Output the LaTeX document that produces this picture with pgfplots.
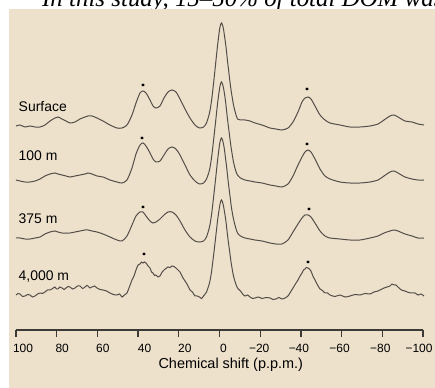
\documentclass[border=0pt]{standalone}
\usepackage{pgfplots}
\pgfplotsset{compat=1.18}
\usepackage{pgfplotstable}
\usepackage{fontspec}
\setmainfont{Liberation Sans}
\newfontfamily\seriffont{Liberation Serif}
\definecolor{bg}{RGB}{237,225,204}
\definecolor{trace}{RGB}{84,78,72}
\definecolor{axisc}{RGB}{60,58,55}

\pgfplotstableread{
x s a b
100.00 -126 -180 -238
98.03 -125 -181 -238
95.58 -127 -182 -239
93.12 -126 -182 -239
90.66 -127 -181 -238
88.21 -127 -179 -237
85.75 -125 -176 -234
83.29 -121 -174 -232
80.84 -118 -173 -231
79.36 -117 -174 -232
77.40 -119 -175 -233
75.43 -121 -176 -233
73.46 -123 -177 -233
71.01 -122 -176 -232
68.55 -119 -175 -231
66.09 -117 -174 -230
64.62 -116 -173 -230
62.65 -116 -174 -231
60.20 -118 -176 -232
57.25 -121 -177 -234
53.81 -125 -180 -237
50.37 -128 -182 -240
47.91 -128 -183 -241
45.45 -125 -180 -236
43.00 -115 -168 -225
41.03 -103 -154 -216
39.07 -93 -145 -212
37.59 -91 -143 -212
36.12 -93 -146 -216
34.15 -100 -153 -221
32.68 -106 -159 -223
31.20 -108 -162 -222
29.24 -106 -161 -219
27.27 -98 -155 -215
25.31 -92 -149 -212
23.34 -90 -147 -212
21.38 -92 -149 -215
19.41 -99 -155 -221
16.95 -109 -165 -230
14.50 -118 -175 -237
12.04 -125 -181 -241
9.83 -128 -184 -242
7.86 -127 -183 -241
6.39 -123 -179 -237
4.91 -113 -170 -227
3.93 -101 -158 -215
2.95 -84 -141 -198
1.97 -65 -123 -180
0.98 -46 -104 -161
0.00 -30 -89 -145
-0.49 -25 -84 -140
-0.98 -23 -82 -138
-1.47 -25 -84 -140
-1.97 -29 -88 -144
-2.46 -36 -94 -150
-2.95 -43 -101 -158
-3.44 -51 -110 -166
-3.93 -61 -119 -175
-4.42 -69 -127 -184
-4.91 -78 -135 -192
-5.40 -86 -143 -200
-5.90 -93 -150 -208
-6.88 -105 -162 -219
-7.86 -113 -170 -227
-8.84 -119 -175 -233
-10.32 -120 -178 -236
-12.53 -120 -180 -238
-14.99 -121 -181 -239
-17.44 -123 -182 -240
-20.88 -125 -183 -241
-24.82 -128 -185 -243
-27.76 -129 -186 -244
-30.71 -130 -187 -244
-33.66 -128 -184 -240
-36.12 -122 -176 -232
-38.57 -112 -165 -224
-40.54 -102 -157 -218
-42.01 -98 -152 -215
-43.49 -97 -150 -215
-44.96 -99 -152 -217
-46.93 -106 -159 -223
-49.39 -115 -169 -231
-51.84 -120 -176 -236
-54.30 -123 -179 -238
-59.21 -125 -182 -239
-64.13 -127 -183 -240
-69.04 -127 -183 -240
-73.96 -126 -182 -238
-77.89 -124 -180 -236
-80.84 -120 -176 -233
-83.79 -116 -172 -231
-85.75 -115 -171 -230
-87.71 -117 -173 -231
-91.16 -121 -177 -234
-94.59 -122 -179 -236
-97.54 -124 -180 -238
-100.49 -125 -180 -238
}\spectra

\pgfplotstableread{
x c
100.00 -295
99.0 -293.5
98.03 -294
96.8 -296.5
95.58 -296
94.35 -294.5
93.12 -295
91.9 -297
90.66 -296
89.4 -294
88.21 -293
87.0 -293.5
85.75 -292
84.5 -290
83.29 -290
82.0 -288.5
80.84 -287
80.1 -289
79.36 -289
78.4 -287
77.40 -288
76.4 -289.5
75.43 -288
74.4 -286.5
73.46 -287
72.2 -289
71.01 -288
69.8 -286
68.55 -286
67.3 -288.5
66.09 -287
65.3 -285.5
64.62 -286
63.6 -288
62.65 -287
61.4 -286
60.20 -288
58.7 -289.5
57.25 -290
55.5 -291
53.81 -293
52.1 -294.5
50.37 -295
49.1 -294
47.91 -297
46.7 -295
45.45 -293
43.00 -280
42.0 -276
41.03 -270
40.0 -265
39.07 -264
38.3 -262
37.59 -263
36.9 -262
36.12 -263
35.1 -266
34.15 -268
33.4 -272
32.68 -273
31.9 -275.5
31.20 -275
30.2 -277
29.24 -276
28.2 -272
27.27 -270
26.3 -268.5
25.31 -267
24.3 -267.5
23.34 -266
22.4 -266.5
21.38 -268
20.4 -270
19.41 -272
18.2 -277
16.95 -281
15.7 -285
14.50 -290
13.3 -292
12.04 -296
11.0 -296
9.83 -297
8.8 -298.5
7.86 -296
6.39 -292
4.91 -283
3.93 -272
2.95 -256
1.97 -239
0.98 -221
0.00 -207
-0.49 -202
-0.98 -200
-1.47 -202
-1.97 -206
-2.46 -212
-2.95 -218
-3.44 -226
-3.93 -235
-4.42 -243
-4.91 -250
-5.40 -258
-5.90 -265
-6.88 -276
-7.86 -283
-8.84 -288
-10.32 -291
-11.4 -294
-12.53 -296
-13.8 -295
-14.99 -297
-16.2 -298.5
-17.44 -298
-19.2 -297
-20.88 -298.5
-22.9 -297.5
-24.82 -298
-26.3 -299.5
-27.76 -299
-29.2 -297.5
-30.71 -299
-32.2 -298
-33.66 -296
-34.9 -292
-36.12 -288
-37.3 -284
-38.57 -280
-39.6 -276
-40.54 -273
-41.3 -270
-42.01 -269
-42.7 -267.5
-43.49 -268
-44.2 -269
-44.96 -271
-45.9 -276
-46.93 -280
-48.2 -285
-49.39 -289
-50.6 -290.5
-51.84 -293
-53.1 -293
-54.30 -295
-56.7 -296.5
-59.21 -295
-61.7 -297
-64.13 -296
-66.6 -294.5
-69.04 -295
-71.5 -293.5
-73.96 -294
-75.9 -292
-77.89 -291
-79.4 -289.5
-80.84 -288
-82.3 -287
-83.79 -286
-84.8 -284
-85.75 -285
-86.7 -285
-87.71 -287
-89.4 -290
-91.16 -291
-92.9 -292.5
-94.59 -293
-96.1 -293
-97.54 -295
-99.0 -294
-100.49 -296
}\deep

\begin{document}
\begin{tikzpicture}
\fill[white] (0bp,0bp) rectangle (435bp,388bp);
\fill[bg] (9bp,0bp) rectangle (435bp,379bp);
\begin{scope}
\clip (0bp,379bp) rectangle (435bp,388bp);
\node[anchor=base west, inner sep=0pt, font=\seriffont\itshape\fontsize{25}{28}\selectfont] at (42bp,381bp) {In this study, 15–50\% of total DOM was};
\end{scope}
\begin{axis}[
  at={(16bp,58bp)}, anchor=south west,
  scale only axis, width=407bp, height=321bp,
  xmin=-100, xmax=100, x dir=reverse,
  ymin=-330, ymax=-9,
  axis x line*=bottom, axis y line=none,
  clip=false,
  xtick={-100,-80,-60,-40,-20,0,20,40,60,80,100},
  xticklabels={−100\hspace*{8bp},−80\hspace*{4bp},−60\hspace*{4bp},−40\hspace*{4bp},−20\hspace*{2bp},\hspace*{8bp}0,\hspace*{12bp}20,\hspace*{13bp}40,\hspace*{11bp}60,\hspace*{11bp}80,\hspace*{14bp}100},
  tick align=outside, major tick length=7bp,
  x axis line style={axisc, line width=1.3bp},
  every tick/.style={axisc, line width=1.3bp},
  xticklabel style={font=\fontsize{12}{14}\selectfont, text=black, yshift=-3.5bp},
]
\addplot[trace, no markers, line width=1bp, smooth, tension=0.45] table[x=x, y=s] {\spectra};
\addplot[trace, no markers, line width=1bp, smooth, tension=0.45] table[x=x, y=a] {\spectra};
\addplot[trace, no markers, line width=1bp, smooth, tension=0.45] table[x=x, y=b] {\spectra};
\addplot[trace, no markers, line width=1bp, smooth, tension=0.4] table[x=x, y=c] {\deep};
\addplot[only marks, mark=asterisk, mark size=1.5bp, black, mark options={line width=0.7bp}] coordinates {
(37.59,-85) (-43.0,-89) (38.08,-138) (-43.0,-144) (37.59,-207) (-43.98,-209) (37.10,-254) (-43.49,-262)};
\node[anchor=base west, inner sep=0pt, font=\fontsize{14}{16}\selectfont] at (axis cs:98.77,-112) {Surface};
\node[anchor=base west, inner sep=0pt, font=\fontsize{14}{16}\selectfont] at (axis cs:98.77,-161) {100 m};
\node[anchor=base west, inner sep=0pt, font=\fontsize{14}{16}\selectfont] at (axis cs:98.77,-224) {375 m};
\node[anchor=base west, inner sep=0pt, font=\fontsize{14}{16}\selectfont] at (axis cs:98.77,-281) {4,000 m};
\node[anchor=base, inner sep=0pt, font=\fontsize{14.5}{16}\selectfont] at (axis cs:-5.55,-368.5) {Chemical shift (p.p.m.)};
\end{axis}
\pgfresetboundingbox
\useasboundingbox (0bp,0bp) rectangle (435bp,388bp);
\end{tikzpicture}
\end{document}
